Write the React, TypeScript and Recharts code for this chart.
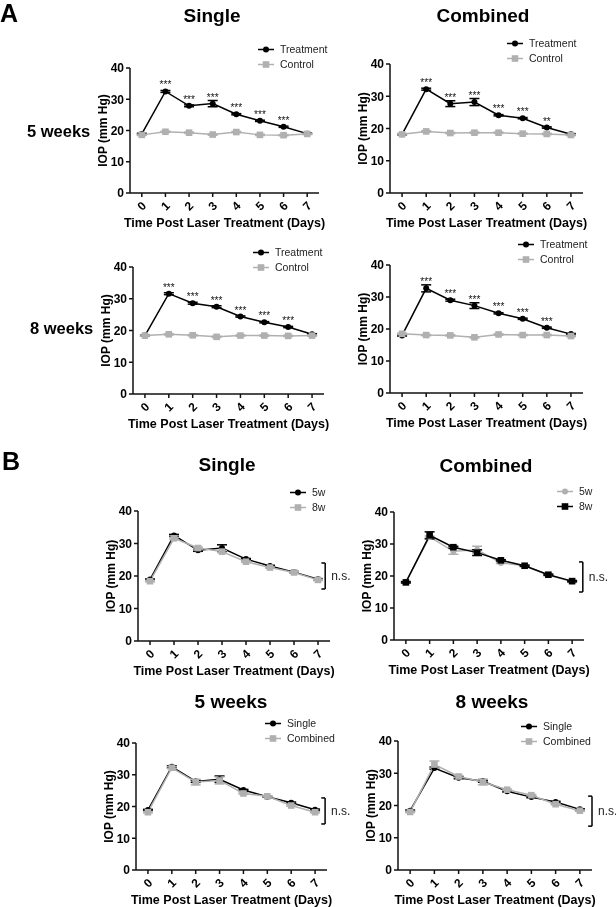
import React from 'react';
import { LineChart, Line, XAxis, YAxis, ErrorBar, LabelList, Legend, ReferenceLine, Label } from 'recharts';

// days post laser treatment
const days = [0, 1, 2, 3, 4, 5, 6, 7];
const iopTicks = [0, 10, 20, 30, 40];

// IOP (mm Hg), treated eyes
const single5w = [18.9, 32.5, 27.9, 28.6, 25.2, 23.1, 21.2, 19.0];
const single5wErr = [0.2, 0.3, 0.3, 1.0, 0.2, 0.2, 0.2, 0.2];
const combined5w = [18.2, 32.2, 27.7, 28.2, 24.1, 23.2, 20.3, 18.2];
const combined5wErr = [0.2, 0.3, 0.9, 1.1, 0.2, 0.2, 0.2, 0.2];
const single8w = [18.4, 31.6, 28.6, 27.5, 24.4, 22.6, 21.1, 18.8];
const single8wErr = [0.2, 0.3, 0.3, 0.3, 0.2, 0.2, 0.2, 0.2];
const combined8w = [18.0, 32.7, 29.0, 27.3, 24.9, 23.2, 20.4, 18.4];
const combined8wErr = [0.2, 1.1, 0.3, 0.9, 0.2, 0.2, 0.2, 0.2];

// IOP (mm Hg), control eyes
const single5wCtrl = [18.6, 19.6, 19.3, 18.7, 19.5, 18.6, 18.5, 18.9];
const combined5wCtrl = [18.2, 19.1, 18.6, 18.7, 18.7, 18.4, 18.3, 18.0];
const single8wCtrl = [18.4, 18.8, 18.5, 18.0, 18.4, 18.4, 18.3, 18.4];
const combined8wCtrl = [18.5, 18.1, 18.0, 17.4, 18.3, 18.1, 18.1, 17.8];
const ctrlErr = [0.2, 0.2, 0.2, 0.2, 0.2, 0.2, 0.2, 0.2];

// significance vs control
const starsSingle5w = ['', '***', '***', '***', '***', '***', '***', ''];
const starsCombined5w = ['', '***', '***', '***', '***', '***', '**', ''];
const starsSingle8w = ['', '***', '***', '***', '***', '***', '***', ''];
const starsCombined8w = ['', '***', '***', '***', '***', '***', '***', ''];

const BLACK = '#000000';
const GRAY = '#b0b0b0';
const FONT = '"Liberation Sans", Arial, sans-serif';

type Series = {
  key: string;
  name: string;
  values: number[];
  errors: number[];
  color: string;
  shape: 'circle' | 'square';
  stars?: string[];
};

const SquareDot = (props: any) => {
  const { cx, cy, fill } = props;
  if (cx == null || cy == null) return null;
  return <rect x={cx - 3.3} y={cy - 3.3} width={6.6} height={6.6} fill={fill} />;
};

const DayTick = (props: any) => {
  const { x, y, payload } = props;
  const ty = y + 7;
  return (
    <text x={x} y={ty} transform={`rotate(-45 ${x} ${ty})`} textAnchor="middle" dominantBaseline="central"
      fontSize={12} fontWeight="bold" fill="#000" fontFamily={FONT}>
      {payload.value}
    </text>
  );
};

const LegendBox = ({ series }: { series: Series[] }) => (
  <div style={{ fontFamily: FONT, fontSize: 10.5, color: '#222' }}>
    {series.map((s) => (
      <div key={s.key} style={{ display: 'flex', alignItems: 'center', height: 15 }}>
        <svg width={22} height={15}>
          <line x1={0} y1={7.5} x2={16} y2={7.5} stroke={s.color} strokeWidth={1.5} />
          {s.shape === 'circle'
            ? <circle cx={8} cy={7.5} r={3} fill={s.color} />
            : <rect x={4.7} y={4.2} width={6.6} height={6.6} fill={s.color} />}
        </svg>
        <span>{s.name}</span>
      </div>
    ))}
  </div>
);

type PanelCfg = {
  axisX: number; plotTop: number; plotBottom: number; plotW: number;
  legendX: number; legendY: number;
  series: Series[];
  bracket?: { x: number; y0: number; y1: number };
};

const treat = (key: string, values: number[], errors: number[], stars: string[]): Series =>
  ({ key, name: 'Treatment', values, errors, color: BLACK, shape: 'circle', stars });
const ctrl = (key: string, values: number[]): Series =>
  ({ key, name: 'Control', values, errors: ctrlErr, color: GRAY, shape: 'square' });

const panels: PanelCfg[] = [
  { axisX: 130, plotTop: 68, plotBottom: 193, plotW: 189, legendX: 258, legendY: 49,
    series: [treat('t', single5w, single5wErr, starsSingle5w), ctrl('c', single5wCtrl)] },
  { axisX: 390, plotTop: 64, plotBottom: 193, plotW: 193, legendX: 507, legendY: 43,
    series: [treat('t', combined5w, combined5wErr, starsCombined5w), ctrl('c', combined5wCtrl)] },
  { axisX: 133, plotTop: 267, plotBottom: 394, plotW: 191, legendX: 253, legendY: 252,
    series: [treat('t', single8w, single8wErr, starsSingle8w), ctrl('c', single8wCtrl)] },
  { axisX: 390, plotTop: 265, plotBottom: 393, plotW: 193, legendX: 518, legendY: 244,
    series: [treat('t', combined8w, combined8wErr, starsCombined8w), ctrl('c', combined8wCtrl)] },
  { axisX: 138, plotTop: 511, plotBottom: 641, plotW: 192, legendX: 290, legendY: 492,
    series: [
      { key: 'a', name: '5w', values: single5w, errors: single5wErr, color: BLACK, shape: 'circle' },
      { key: 'b', name: '8w', values: single8w, errors: single8wErr, color: GRAY, shape: 'square' },
    ],
    bracket: { x: 7.3, y0: 16, y1: 24 } },
  { axisX: 394, plotTop: 512, plotBottom: 640, plotW: 190, legendX: 557, legendY: 491,
    series: [
      { key: 'a', name: '5w', values: combined5w, errors: combined5wErr, color: GRAY, shape: 'circle' },
      { key: 'b', name: '8w', values: combined8w, errors: combined8wErr, color: BLACK, shape: 'square' },
    ],
    bracket: { x: 7.45, y0: 15, y1: 24.4 } },
  { axisX: 136, plotTop: 743, plotBottom: 870, plotW: 191, legendX: 265, legendY: 723,
    series: [
      { key: 'a', name: 'Single', values: single5w, errors: single5wErr, color: BLACK, shape: 'circle' },
      { key: 'b', name: 'Combined', values: combined5w, errors: combined5wErr, color: GRAY, shape: 'square' },
    ],
    bracket: { x: 7.42, y0: 14.5, y1: 22.7 } },
  { axisX: 398, plotTop: 741, plotBottom: 870, plotW: 194, legendX: 521, legendY: 726,
    series: [
      { key: 'a', name: 'Single', values: single8w, errors: single8wErr, color: BLACK, shape: 'circle' },
      { key: 'b', name: 'Combined', values: combined8w, errors: combined8wErr, color: GRAY, shape: 'square' },
    ],
    bracket: { x: 7.5, y0: 13.6, y1: 22.9 } },
];

const titles = [
  { text: 'A', x: 0, y: 22, size: 25, anchor: 'start' },
  { text: 'Single', x: 212, y: 21.5, size: 19, anchor: 'middle' },
  { text: 'Combined', x: 483, y: 22, size: 19, anchor: 'middle' },
  { text: '5 weeks', x: 27, y: 137, size: 16.5, anchor: 'start' },
  { text: '8 weeks', x: 30, y: 334, size: 16.5, anchor: 'start' },
  { text: 'B', x: 2, y: 470, size: 25, anchor: 'start' },
  { text: 'Single', x: 227, y: 471, size: 19, anchor: 'middle' },
  { text: 'Combined', x: 486, y: 472, size: 19, anchor: 'middle' },
  { text: '5 weeks', x: 231, y: 708, size: 19, anchor: 'middle' },
  { text: '8 weeks', x: 492, y: 708, size: 19, anchor: 'middle' },
];

const Panel = ({ cfg }: { cfg: PanelCfg }) => {
  const { axisX, plotTop, plotBottom, plotW, series, legendX, legendY, bracket } = cfg;
  const left = axisX - 50;
  const top = plotTop - 30;
  const width = 50 + plotW + 45;
  const height = 30 + (plotBottom - plotTop) + 40;

  const data = days.map((d, i) => {
    const row: any = { day: d };
    series.forEach((s) => {
      row[s.key] = s.values[i];
      row[s.key + 'Err'] = s.errors[i];
      if (s.stars) row[s.key + 'Sig'] = s.stars[i];
    });
    return row;
  });

  return (
    <div style={{ position: 'absolute', left, top, width, height, willChange: 'transform' }}>
      <LineChart width={width} height={height} data={data} margin={{ top: 30, right: 45, bottom: 0, left: 10 }}>
        <XAxis type="number" dataKey="day" domain={[-0.5, 7.5]} ticks={days} interval={0} allowDataOverflow
          tick={<DayTick />} tickSize={4} height={40} stroke="#111" strokeWidth={1.5}>
          <Label value="Time Post Laser Treatment (Days)" position="insideBottom" offset={6}
            style={{ fontSize: 12.5, fontWeight: 'bold', fill: '#000', fontFamily: FONT }} />
        </XAxis>
        <YAxis type="number" domain={[0, 40]} ticks={iopTicks} interval={0} width={40} tickSize={4} tickMargin={2}
          stroke="#111" strokeWidth={1.5}
          tick={{ fontSize: 12, fontWeight: 'bold', fill: '#000', fontFamily: FONT }}>
          <Label value="IOP (mm Hg)" angle={-90} position="insideLeft" offset={13}
            style={{ textAnchor: 'middle', fontSize: 12, fontWeight: 'bold', fill: '#000', fontFamily: FONT }} />
        </YAxis>
        <Legend layout="vertical" align="center" verticalAlign="middle"
          content={() => <LegendBox series={series} />}
          wrapperStyle={{ left: legendX - left, top: legendY - 7.5 - top, width: 'auto', height: 'auto' }} />
        {series.map((s) => (
          <Line key={s.key} type="linear" dataKey={s.key} name={s.name} stroke={s.color} strokeWidth={1.5}
            isAnimationActive={false}
            dot={s.shape === 'circle'
              ? { r: 3, fill: s.color, stroke: s.color, strokeWidth: 0 }
              : <SquareDot fill={s.color} />}
            activeDot={false}>
            <ErrorBar dataKey={s.key + 'Err'} direction="y" width={5} stroke={s.color} strokeWidth={1.5}
              isAnimationActive={false} />
            {s.stars && (
              <LabelList dataKey={s.key + 'Sig'} position="top" offset={3} fill="#111" stroke="none"
                fontSize={10} fontFamily={FONT} />
            )}
          </Line>
        ))}
        {bracket && (
          <ReferenceLine segment={[{ x: bracket.x, y: bracket.y0 }, { x: bracket.x, y: bracket.y1 }]}
            stroke="#000" strokeWidth={1.5} ifOverflow="visible">
            <Label value="n.s." position="right" offset={6}
              style={{ fontSize: 12, fill: '#222', fontFamily: FONT }} />
          </ReferenceLine>
        )}
        {bracket && (
          <ReferenceLine segment={[{ x: bracket.x - 0.16, y: bracket.y1 }, { x: bracket.x, y: bracket.y1 }]}
            stroke="#000" strokeWidth={1.5} ifOverflow="visible" />
        )}
        {bracket && (
          <ReferenceLine segment={[{ x: bracket.x - 0.16, y: bracket.y0 }, { x: bracket.x, y: bracket.y0 }]}
            stroke="#000" strokeWidth={1.5} ifOverflow="visible" />
        )}
      </LineChart>
    </div>
  );
};

export default function App() {
  return (
    <div style={{ position: 'absolute', left: 0, top: 0, width: 616, height: 907, overflow: 'hidden',
      background: '#fff', fontFamily: FONT }}>
      {panels.map((p, i) => <Panel key={i} cfg={p} />)}
      <svg width={616} height={907} style={{ position: 'absolute', left: 0, top: 0, pointerEvents: 'none' }}>
        {titles.map((t, i) => (
          <text key={i} x={t.x} y={t.y} fontSize={t.size} fontWeight="bold" fill="#000"
            textAnchor={t.anchor as any} fontFamily={FONT}>{t.text}</text>
        ))}
      </svg>
    </div>
  );
}
